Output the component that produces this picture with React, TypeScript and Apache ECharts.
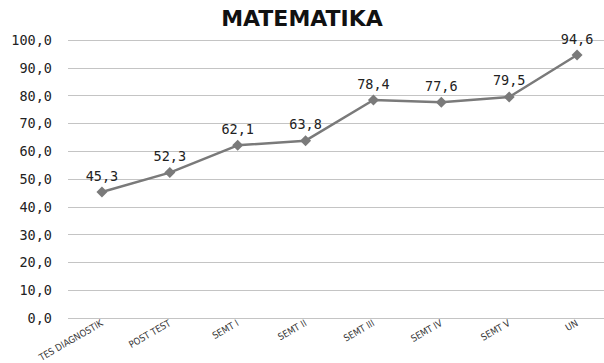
import React, { useEffect, useRef } from "react";
import * as echarts from "echarts";

const titleText = "MATEMATIKA";
const categories = [
  "TES DIAGNOSTIK",
  "POST TEST",
  "SEMT I",
  "SEMT II",
  "SEMT III",
  "SEMT IV",
  "SEMT V",
  "UN",
];
const scores = [45.3, 52.3, 62.1, 63.8, 78.4, 77.6, 79.5, 94.6];

const fmt = (v: number) => v.toFixed(1).replace(".", ",");

export default function App() {
  const ref = useRef<HTMLDivElement>(null);

  useEffect(() => {
    if (!ref.current) return;
    const chart = echarts.init(ref.current, undefined, { renderer: "svg" });
    chart.setOption({
      animation: false,
      backgroundColor: "#ffffff",
      title: {
        text: titleText,
        left: "center",
        top: 2,
        textStyle: {
          fontFamily: "DejaVu Sans",
          fontWeight: "bold",
          fontSize: 22,
          color: "#111111",
        },
      },
      grid: {
        left: 68,
        top: 40,
        width: 543,
        height: 278,
        outerBoundsMode: "none",
        containLabel: false,
      },
      xAxis: {
        type: "category",
        data: categories,
        boundaryGap: true,
        axisLine: { show: false },
        axisTick: { show: false },
        axisLabel: {
          rotate: 30,
          margin: 4,
          interval: 0,
          fontFamily: "DejaVu Sans Condensed, DejaVu Sans",
          fontSize: 9.5,
          color: "#333333",
        },
      },
      yAxis: {
        type: "value",
        min: 0,
        max: 100,
        interval: 10,
        axisLine: { show: false },
        axisTick: { show: false },
        axisLabel: {
          formatter: (v: number) => fmt(v),
          margin: 16,
          fontFamily: "DejaVu Sans Mono",
          fontSize: 13.5,
          color: "#222222",
        },
        splitLine: { lineStyle: { color: "#c4c4c4", width: 1 } },
      },
      series: [
        {
          type: "line",
          data: scores,
          symbol: "diamond",
          symbolSize: 11,
          lineStyle: { color: "#7a7a7a", width: 2.5 },
          itemStyle: { color: "#7a7a7a" },
          label: {
            show: true,
            position: "top",
            distance: 4,
            formatter: (p: any) => fmt(p.value),
            fontFamily: "DejaVu Sans Mono",
            fontSize: 13.5,
            color: "#222222",
          },
        },
      ],
    });
    return () => chart.dispose();
  }, []);

  return (
    <div
      ref={ref}
      style={{ position: "fixed", left: 0, top: 0, width: 604, height: 363 }}
    />
  );
}
